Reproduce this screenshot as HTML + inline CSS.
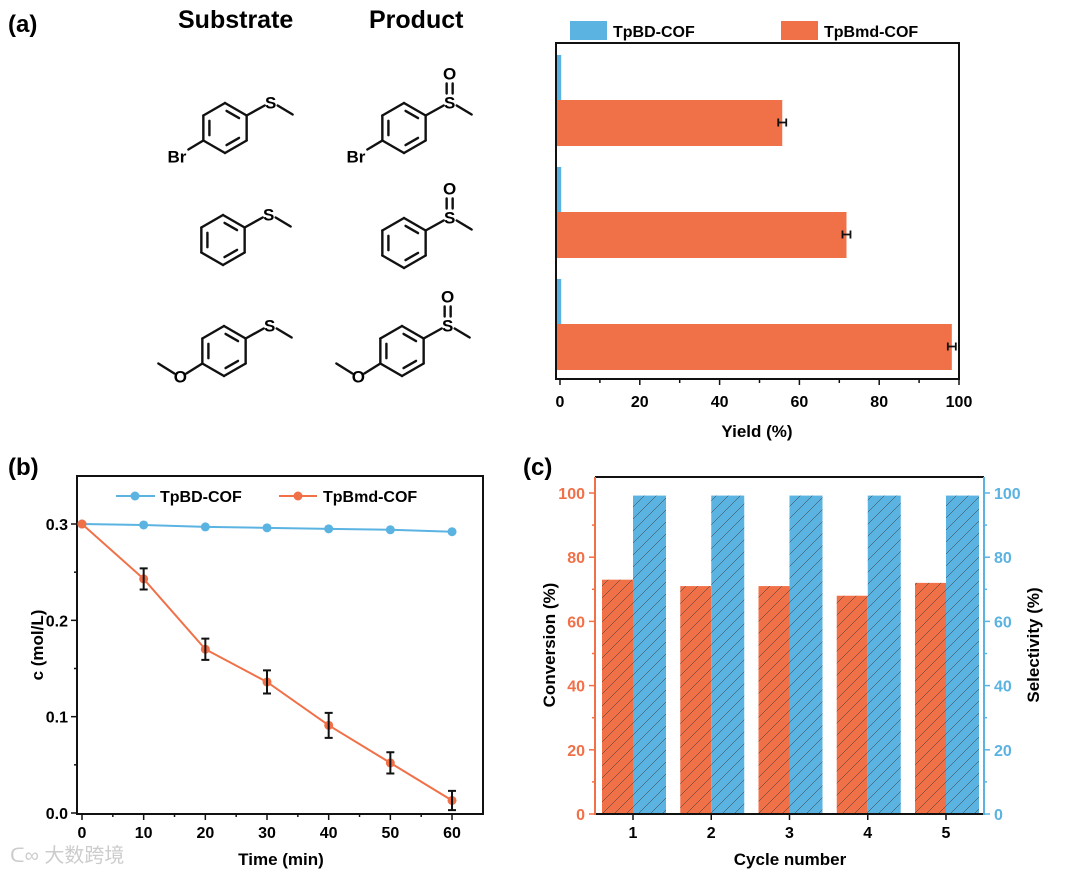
<!DOCTYPE html>
<html><head><meta charset="utf-8"><style>
body{margin:0;background:#fff;width:1080px;height:874px;overflow:hidden}
svg{position:absolute;left:0;top:0;font-family:"Liberation Sans",Arial,sans-serif}
</style></head><body>
<svg id="s" width="1080" height="874">
<defs>
<pattern id="hatch" patternUnits="userSpaceOnUse" width="12" height="12">
<path d="M-3,15 L15,-3 M-3,3 L3,-3 M9,15 L15,9" stroke="#333" stroke-width="0.5"/>
</pattern>
</defs>
<g id="chem"></g>
<g id="ga"></g>
<g id="gb"></g>
<g id="gc"></g>
</svg>
<script>
// Panel a data
const aCats=["4-bromothioanisole","thioanisole","4-methoxythioanisole"];
const aBD=[0.3,0.3,0.3];
const aBmd=[55.7,71.8,98.2];
const aErr=[1.0,1.0,1.0];
const aTicks=[0,20,40,60,80,100];
// Panel b data
const bTime=[0,10,20,30,40,50,60];
const bBD=[0.300,0.299,0.297,0.296,0.295,0.294,0.292];
const bBmd=[0.300,0.243,0.170,0.136,0.091,0.052,0.013];
const bErr=[0,0.011,0.011,0.012,0.013,0.011,0.010];
const bXTicks=[0,10,20,30,40,50,60];
const bYTicks=[0.0,0.1,0.2,0.3];
// Panel c data
const cCycles=[1,2,3,4,5];
const cConv=[73,71,71,68,72];
const cSel=[99.2,99.2,99.2,99.2,99.2];
const cTicks=[0,20,40,60,80,100];

const NS="http://www.w3.org/2000/svg";
const OR="#f07048", BL="#5bb3e2";
function mk(p,tag,at,txt){const e=document.createElementNS(NS,tag);for(const k in at)e.setAttribute(k,at[k]);if(txt!==undefined)e.textContent=txt;p.appendChild(e);return e;}
const root=document.getElementById('s');

let t;
t=mk(root,'text',{x:8,y:32,'font-size':24,'font-weight':'bold'},'(a)');


t=mk(root,'text',{x:8,y:475,'font-size':24,'font-weight':'bold'},'(b)');


t=mk(root,'text',{x:523,y:475,'font-size':24,'font-weight':'bold'},'(c)');



const chem=document.getElementById('chem');
t=mk(chem,'text',{x:178,y:28,'font-size':25,'font-weight':'bold'},'Substrate');


t=mk(chem,'text',{x:369,y:28,'font-size':25,'font-weight':'bold'},'Product');


function ln(g,x1,y1,x2,y2){mk(g,'line',{x1,y1,x2,y2,stroke:'#111','stroke-width':2.4,'stroke-linecap':'round'});}
function mol(cx,cy,para,oxide,name){
  const g=mk(chem,'g',{});
  
  
  const r=25,v=[];
  for(let i=0;i<6;i++){const a=(-90+60*i)*Math.PI/180;v.push([cx+r*Math.cos(a),cy+r*Math.sin(a)]);}
  for(let i=0;i<6;i++){const a=v[i],b=v[(i+1)%6];ln(g,a[0],a[1],b[0],b[1]);}
  [[0,1],[2,3],[4,5]].forEach(([i,j])=>{const a=v[i],b=v[j];const s=0.72,ax=cx+(a[0]-cx)*s,ay=cy+(a[1]-cy)*s,bx=cx+(b[0]-cx)*s,by=cy+(b[1]-cy)*s;const mx=(ax+bx)/2,my=(ay+by)/2;ln(g,mx+(ax-mx)*0.8,my+(ay-my)*0.8,mx+(bx-mx)*0.8,my+(by-my)*0.8);});
  const ur=v[1],sx=ur[0]+24,sy=ur[1]-13;
  ln(g,ur[0],ur[1],sx-6,sy+3);
  mk(g,'text',{x:sx,y:sy+6,'font-size':17,'font-weight':'bold','text-anchor':'middle'},'S');
  ln(g,sx+7,sy+3,sx+22,sy+12);
  if(oxide){ln(g,sx-3,sy-9,sx-3,sy-19);ln(g,sx+3,sy-9,sx+3,sy-19);mk(g,'text',{x:sx,y:sy-23,'font-size':17,'font-weight':'bold','text-anchor':'middle'},'O');}
  const ll=v[4];
  if(para==='Br'){ln(g,ll[0],ll[1],ll[0]-15,ll[1]+9);mk(g,'text',{x:ll[0]-17,y:ll[1]+22,'font-size':17,'font-weight':'bold','text-anchor':'end'},'Br');}
  if(para==='OMe'){const ox=ll[0]-22,oy=ll[1]+13;ln(g,ll[0],ll[1],ox+6,oy-3);mk(g,'text',{x:ox,y:oy+6,'font-size':17,'font-weight':'bold','text-anchor':'middle'},'O');ln(g,ox-6,oy-3,ox-22,oy-13);}
}
mol(225,128,'Br',false,'substrate-1');mol(404,128,'Br',true,'product-1');
mol(223,240,null,false,'substrate-2');mol(404,243,null,true,'product-2');
mol(224,351,'OMe',false,'substrate-3');mol(402,351,'OMe',true,'product-3');

(function(){
const g=document.getElementById('ga');
const X=v=>560+v*3.99;
const gTop=[55,167,279];const bh=45;
mk(g,'rect',{x:570,y:21,width:37,height:19,fill:BL});
t=mk(g,'text',{x:613,y:37,'font-size':16,'font-weight':'bold'},'TpBD-COF');


mk(g,'rect',{x:781,y:21,width:37,height:19,fill:OR});
t=mk(g,'text',{x:824,y:37,'font-size':16,'font-weight':'bold'},'TpBmd-COF');


aCats.forEach((c,i)=>{
  let r=mk(g,'rect',{x:556,y:gTop[i],width:X(aBD[i])-556,height:bh,fill:BL});
  
  
  r=mk(g,'rect',{x:556,y:gTop[i]+bh,width:X(aBmd[i])-556,height:bh+1,fill:OR});
  
  
  const cy=gTop[i]+bh+bh/2,x1=X(aBmd[i]-aErr[i]),x2=X(aBmd[i]+aErr[i]);
  mk(g,'path',{d:`M${x1},${cy-4}V${cy+4}M${x1},${cy}H${x2}M${x2},${cy-4}V${cy+4}`,stroke:'#111','stroke-width':1.8,fill:'none'});
});
mk(g,'rect',{x:556,y:43,width:403,height:336,fill:'none',stroke:'#111','stroke-width':2});
for(let v=0;v<=100;v+=10){mk(g,'line',{x1:X(v),y1:379,x2:X(v),y2:v%20?383:385,stroke:'#111','stroke-width':1.5});}
aTicks.forEach(v=>{mk(g,'text',{x:X(v),y:407,'font-size':16,'font-weight':'bold','text-anchor':'middle'},v);});
t=mk(g,'text',{x:757,y:437,'font-size':17,'font-weight':'bold','text-anchor':'middle'},'Yield (%)');


})();

(function(){
const g=document.getElementById('gb');
const X=v=>82+v*6.167, Y=v=>813-v*963.3;
mk(g,'rect',{x:77,y:476,width:406,height:338,fill:'none',stroke:'#111','stroke-width':2});
bXTicks.forEach(v=>{mk(g,'line',{x1:X(v),y1:814,x2:X(v),y2:820,stroke:'#111','stroke-width':1.5});mk(g,'text',{x:X(v),y:838,'font-size':16,'font-weight':'bold','text-anchor':'middle'},v);});
for(let v=5;v<60;v+=10)mk(g,'line',{x1:X(v),y1:814,x2:X(v),y2:817,stroke:'#111','stroke-width':1.5});
bYTicks.forEach(v=>{mk(g,'line',{x1:77,y1:Y(v),x2:71,y2:Y(v),stroke:'#111','stroke-width':1.5});mk(g,'text',{x:68,y:Y(v)+6,'font-size':16,'font-weight':'bold','text-anchor':'end'},v.toFixed(1));});
[0.05,0.15,0.25].forEach(v=>mk(g,'line',{x1:77,y1:Y(v),x2:74,y2:Y(v),stroke:'#111','stroke-width':1.5}));
let p=mk(g,'polyline',{points:bTime.map((x,i)=>X(x)+','+Y(bBD[i])).join(' '),fill:'none',stroke:BL,'stroke-width':2});


p=mk(g,'polyline',{points:bTime.map((x,i)=>X(x)+','+Y(bBmd[i])).join(' '),fill:'none',stroke:OR,'stroke-width':2});


bTime.forEach((x,i)=>{
  let c=mk(g,'circle',{cx:X(x),cy:Y(bBD[i]),r:4.5,fill:BL});
  
  
  c=mk(g,'circle',{cx:X(x),cy:Y(bBmd[i]),r:4.5,fill:OR});
  
  
  if(bErr[i]>0){const y1=Y(bBmd[i]+bErr[i]),y2=Y(bBmd[i]-bErr[i]),cx=X(x);
  mk(g,'path',{d:`M${cx-4},${y1}H${cx+4}M${cx},${y1}V${y2}M${cx-4},${y2}H${cx+4}`,stroke:'#111','stroke-width':2,fill:'none'});}
});
mk(g,'line',{x1:116,y1:496,x2:155,y2:496,stroke:BL,'stroke-width':2});mk(g,'circle',{cx:135,cy:496,r:4.5,fill:BL});
t=mk(g,'text',{x:160,y:502,'font-size':16,'font-weight':'bold'},'TpBD-COF');


mk(g,'line',{x1:279,y1:496,x2:317,y2:496,stroke:OR,'stroke-width':2});mk(g,'circle',{cx:298,cy:496,r:4.5,fill:OR});
t=mk(g,'text',{x:323,y:502,'font-size':16,'font-weight':'bold'},'TpBmd-COF');


t=mk(g,'text',{x:281,y:865,'font-size':17,'font-weight':'bold','text-anchor':'middle'},'Time (min)');


t=mk(g,'text',{x:0,y:0,'font-size':17,'font-weight':'bold','text-anchor':'middle',transform:'translate(43,645) rotate(-90)'},'c (mol/L)');


t=mk(g,'text',{x:10,y:862,'font-size':20,fill:'#ccc','font-family':'"Liberation Sans","Noto Sans CJK SC",sans-serif'},'ᑕ∞ 大数跨境');


})();

(function(){
const g=document.getElementById('gc');
const X=c=>633+(c-1)*78.25, Y=v=>814-v*3.21;
cCycles.forEach((c,i)=>{
  let r=mk(g,'rect',{x:X(c)-31,y:Y(cConv[i]),width:31,height:814-Y(cConv[i]),fill:OR});
  
  
  mk(g,'rect',{x:X(c)-31,y:Y(cConv[i]),width:31,height:814-Y(cConv[i]),fill:'url(#hatch)'});
  r=mk(g,'rect',{x:X(c),y:Y(cSel[i]),width:33,height:814-Y(cSel[i]),fill:BL});
  
  
  mk(g,'rect',{x:X(c),y:Y(cSel[i]),width:33,height:814-Y(cSel[i]),fill:'url(#hatch)'});
  mk(g,'line',{x1:X(c),y1:814,x2:X(c),y2:820,stroke:'#111','stroke-width':1.5});
  mk(g,'text',{x:X(c),y:838,'font-size':16,'font-weight':'bold','text-anchor':'middle'},c);
});
mk(g,'line',{x1:595,y1:477,x2:984,y2:477,stroke:'#111','stroke-width':2});
mk(g,'line',{x1:595,y1:814,x2:984,y2:814,stroke:'#111','stroke-width':2});
mk(g,'line',{x1:595,y1:477,x2:595,y2:815,stroke:OR,'stroke-width':2});
mk(g,'line',{x1:984,y1:477,x2:984,y2:815,stroke:BL,'stroke-width':2});
cTicks.forEach(v=>{
  mk(g,'line',{x1:595,y1:Y(v),x2:589,y2:Y(v),stroke:OR,'stroke-width':1.5});
  mk(g,'text',{x:585,y:Y(v)+6,'font-size':16,'font-weight':'bold','text-anchor':'end',fill:OR},v);
  mk(g,'line',{x1:984,y1:Y(v),x2:990,y2:Y(v),stroke:BL,'stroke-width':1.5});
  mk(g,'text',{x:994,y:Y(v)+6,'font-size':16,'font-weight':'bold',fill:BL},v);
});
for(let v=10;v<100;v+=20){mk(g,'line',{x1:595,y1:Y(v),x2:592,y2:Y(v),stroke:OR,'stroke-width':1.5});mk(g,'line',{x1:984,y1:Y(v),x2:987,y2:Y(v),stroke:BL,'stroke-width':1.5});}
t=mk(g,'text',{x:790,y:865,'font-size':17,'font-weight':'bold','text-anchor':'middle'},'Cycle number');


t=mk(g,'text',{x:0,y:0,'font-size':17,'font-weight':'bold','text-anchor':'middle',transform:'translate(555,645) rotate(-90)'},'Conversion (%)');


t=mk(g,'text',{x:0,y:0,'font-size':17,'font-weight':'bold','text-anchor':'middle',transform:'translate(1039,645) rotate(-90)'},'Selectivity (%)');


})();
</script>
</body></html>
